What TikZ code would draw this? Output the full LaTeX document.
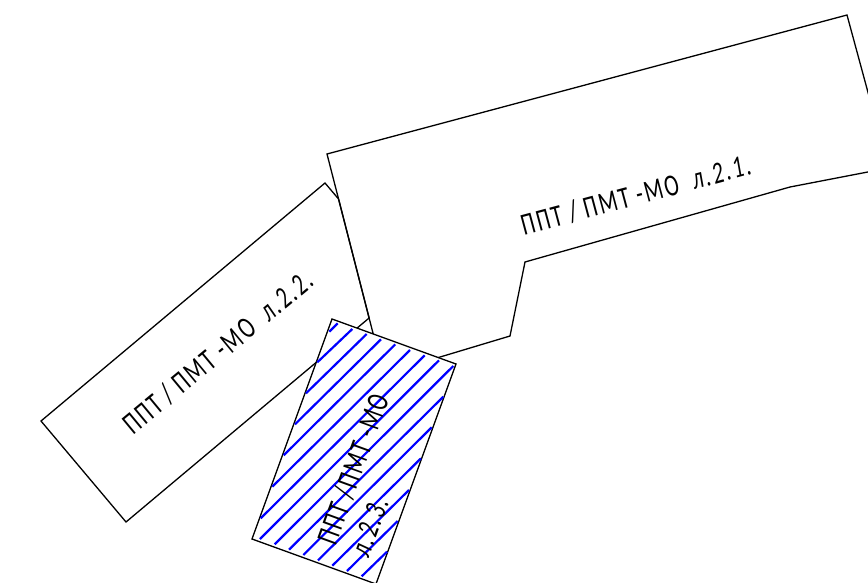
\documentclass[tikz,border=0pt]{standalone}
\usepackage{fontspec}
\newfontfamily\gostfont[LetterSpace=7,FakeStretch=0.7]{Carlito}
\tikzset{>=stealth}
\tikzset{
    sheetline/.style={draw=black, line width=1.3pt, line join=miter},
    hatchline/.style={draw=blue, line width=2.2pt},
    sheetlabel/.style={font=\gostfont\fontsize{31}{35}\selectfont, inner sep=0pt, align=left},
}

\begin{document}
\begin{tikzpicture}[x=1pt,y=-1pt]
            \useasboundingbox (0,0) rectangle (868,582);
            \clip (0,0) rectangle (868,582);

            \draw[sheetline] (41,421) -- (325,183) -- (338.57,199) -- (369.1,318) -- (126,522) -- cycle;
            \draw[sheetline] (327,154) -- (847,15) -- (888.5,168) -- (790,187) -- (525,262) -- (510,336) -- (383.5,374) -- cycle;
            \draw[sheetline, fill=white] (332,319) -- (456,364) -- (376,584) -- (252,539) -- cycle;

            \foreach \xa/\ya/\xb/\yb in {329.3/331.7/337.7/323.3, 317.3/362.3/352.3/329, 306/393.3/366.7/334,
                295/424.3/381/339.3, 283.7/455.3/395.3/344.3, 272.3/486.7/410/350, 260.7/518.3/424.7/355.3,
                260/539/439/360.3, 274.7/544.3/453.3/366, 289/549.7/443.3/396.7, 303.3/555/431.7/427.3,
                318/560.3/421/458.3, 332.3/565.7/409/490, 347/571/397.7/521, 361.7/576.3/387/551.7}
                \draw[hatchline] (\xa,\ya) -- (\xb,\yb);

            \node[sheetlabel, rotate=15] (labelA) at (636,195) {ППТ / ПМТ -МО \ \itshape л.2.1.};
            \node[sheetlabel, rotate=39.6] (labelB) at (218,352) {ППТ / ПМТ -МО \ \itshape л.2.2.};
            \node[sheetlabel, rotate=70] (labelC) at (369,475) {ППТ /ПМТ -МО\\ \itshape л.2.3.};
\end{tikzpicture}
\end{document}
